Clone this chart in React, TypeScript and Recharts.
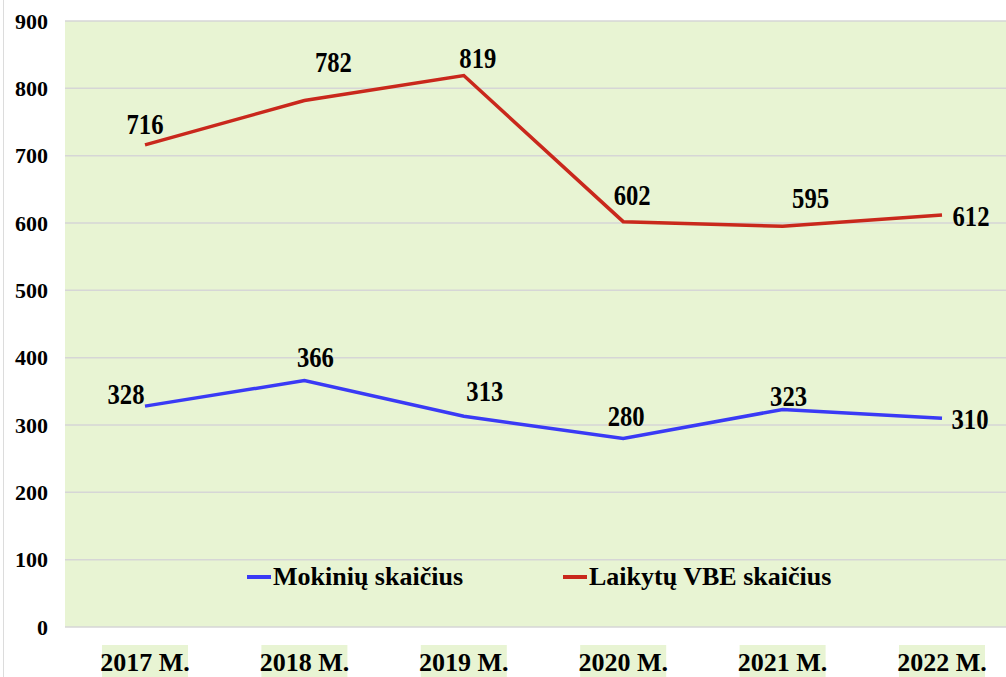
import React from 'react';
import { LineChart, Line, XAxis, YAxis, CartesianGrid, Legend, LabelList } from 'recharts';

// chart values
const years = ['2017 M.', '2018 M.', '2019 M.', '2020 M.', '2021 M.', '2022 M.'];
const students = [328, 366, 313, 280, 323, 310];
const exams = [716, 782, 819, 602, 595, 612];
const yTicks = [0, 100, 200, 300, 400, 500, 600, 700, 800, 900];

// label placement relative to each point (px)
const studentLabelOffsets = [[-19, -12], [11, -23], [21, -25], [3, -22], [6, -13], [28, 1]];
const examLabelOffsets = [[0, -21], [29, -38], [14, -17], [9, -26], [28, -28], [29, 1]];

const data = years.map((year, i) => ({ year, students: students[i], exams: exams[i] }));

const FONT = "'Liberation Serif', 'DejaVu Serif', serif";
const GREEN = '#e8f4d3';
const BLUE = '#3a3af5';
const RED = '#c9281c';

const makeLabel = (offsets: number[][]) => (props: any) => {
  const { x, y, value, index } = props;
  const [dx, dy] = offsets[index] || [0, -20];
  return (
    <text
      transform={`translate(${x + dx},${y + dy}) scale(0.85,1)`}
      textAnchor="middle"
      dominantBaseline="central"
      style={{ fontFamily: FONT, fontWeight: 'bold', fontSize: 29 }}
      fill="#000"
    >
      {value}
    </text>
  );
};

const XTick = (props: any) => {
  const { x, y, payload } = props;
  return (
    <g>
      <rect x={x - 43} y={y + 18} width={86} height={34} fill={GREEN} />
      <text
        x={x}
        y={y + 35}
        textAnchor="middle"
        dominantBaseline="central"
        style={{ fontFamily: FONT, fontWeight: 'bold', fontSize: 26 }}
        fill="#000"
      >
        {payload.value}
      </text>
    </g>
  );
};

const YTick = (props: any) => {
  const { x, y, payload } = props;
  return (
    <text
      x={x}
      y={y}
      textAnchor="end"
      dominantBaseline="central"
      style={{ fontFamily: FONT, fontWeight: 'bold', fontSize: 22 }}
      fill="#000"
    >
      {payload.value}
    </text>
  );
};

const LegendContent = () => {
  const items = [
    { name: 'Mokinių skaičius', color: BLUE },
    { name: 'Laikytų VBE skaičius', color: RED },
  ];
  return (
    <div style={{ display: 'flex', paddingLeft: 247, fontFamily: FONT, fontWeight: 'bold', fontSize: 26 }}>
      {items.map((item, i) => (
        <div key={item.name} style={{ display: 'flex', alignItems: 'center', marginLeft: i === 0 ? 0 : 100 }}>
          <div style={{ width: 24, height: 4, backgroundColor: item.color, marginRight: 2 }} />
          <span style={{ color: '#000', lineHeight: '34px' }}>{item.name}</span>
        </div>
      ))}
    </div>
  );
};

export default function App() {
  return (
    <div style={{ position: 'absolute', left: 0, top: 0, width: 1006, height: 677, background: '#fff', overflow: 'hidden', fontFamily: FONT }}>
      <div style={{ position: 'absolute', left: 3, top: 0, width: 1, height: 677, background: '#dcdcdc' }} />
      <LineChart width={1006} height={677} data={data} margin={{ top: 21, right: 0, bottom: 0, left: 0 }}>
        <CartesianGrid vertical={false} stroke="#d6d6d6" fill={GREEN} strokeWidth={1.5} />
        <XAxis
          dataKey="year"
          axisLine={false}
          tickLine={false}
          tickSize={0}
          tickMargin={0}
          height={50}
          padding={{ left: 80, right: 64 }}
          tick={<XTick />}
          interval={0}
        />
        <YAxis
          domain={[0, 900]}
          ticks={yTicks}
          axisLine={false}
          tickLine={false}
          tickSize={0}
          tickMargin={17}
          width={65}
          tick={<YTick />}
          interval={0}
        />
        <Legend
          layout="horizontal"
          verticalAlign="middle"
          align="center"
          content={<LegendContent />}
          wrapperStyle={{ top: 560, left: 0, width: 1006 }}
        />
        <Line
          type="linear"
          dataKey="students"
          name="Mokinių skaičius"
          stroke={BLUE}
          strokeWidth={3.5}
          dot={false}
          activeDot={false}
          isAnimationActive={false}
        >
          <LabelList dataKey="students" content={makeLabel(studentLabelOffsets)} />
        </Line>
        <Line
          type="linear"
          dataKey="exams"
          name="Laikytų VBE skaičius"
          stroke={RED}
          strokeWidth={3.5}
          dot={false}
          activeDot={false}
          isAnimationActive={false}
        >
          <LabelList dataKey="exams" content={makeLabel(examLabelOffsets)} />
        </Line>
      </LineChart>
    </div>
  );
}
